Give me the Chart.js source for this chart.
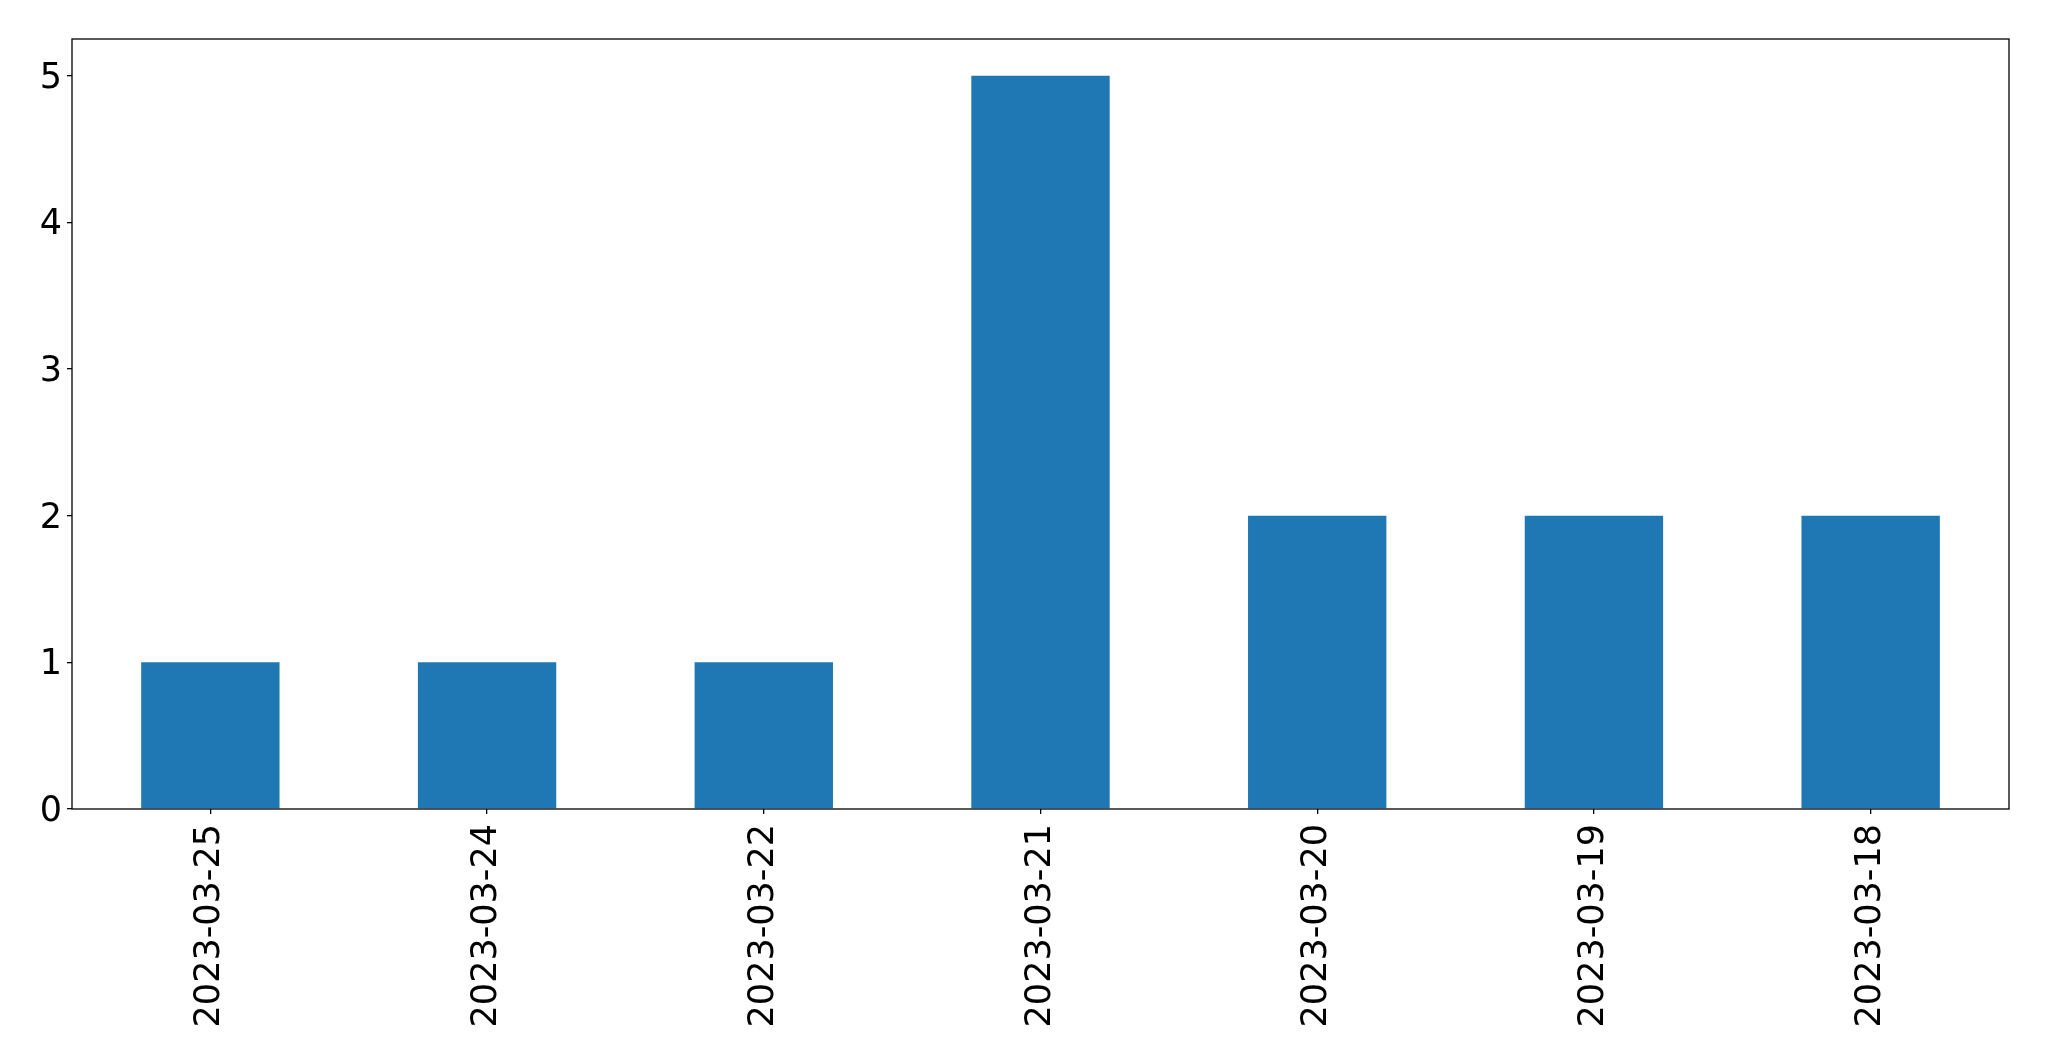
<!DOCTYPE html>
<html>
<head>
<meta charset="utf-8">
<script src="https://cdn.jsdelivr.net/npm/chart.js@4/dist/chart.umd.min.js"></script>
<style>
html,body{margin:0;padding:0;background:#fff;}
canvas{display:block;}
</style>
</head>
<body>
<canvas id="c" width="2049" height="1061"></canvas>
<script>
const categories = ["2023-03-25","2023-03-24","2023-03-22","2023-03-21","2023-03-20","2023-03-19","2023-03-18"];
const counts = [1, 1, 1, 5, 2, 2, 2];
const yTicks = [0, 1, 2, 3, 4, 5];

const frame = {
  id: 'frame',
  afterDraw(chart) {
    const a = chart.chartArea, ctx = chart.ctx;
    ctx.save();
    ctx.strokeStyle = '#000';
    ctx.lineWidth = 1.3;
    ctx.strokeRect(a.left, a.top, a.right - a.left, a.bottom - a.top);
    ctx.restore();
  }
};

new Chart(document.getElementById('c'), {
  type: 'bar',
  data: {
    labels: categories,
    datasets: [{
      data: counts,
      backgroundColor: '#1f77b4',
      borderWidth: 0,
      barPercentage: 0.5,
      categoryPercentage: 1.0
    }]
  },
  options: {
    responsive: false,
    animation: false,
    devicePixelRatio: 1,
    layout: { padding: { top: 39, right: 40, left: 0, bottom: 0 } },
    plugins: { legend: { display: false }, tooltip: { enabled: false } },
    scales: {
      x: {
        offset: true,
        grid: { display: true, drawOnChartArea: false, drawTicks: true, tickLength: 5, color: '#000', lineWidth: 1.3, offset: false },
        border: { display: false },
        ticks: {
          color: '#000',
          font: { family: 'DejaVu Sans', size: 35 },
          maxRotation: 90, minRotation: 90,
          padding: 10,
          autoSkip: false
        },
        afterFit(scale) { scale.height = 252; }
      },
      y: {
        min: 0,
        max: 5.25,
        grid: { display: true, drawOnChartArea: false, drawTicks: true, tickLength: 5, color: '#000', lineWidth: 1.3 },
        border: { display: false },
        ticks: {
          color: '#000',
          font: { family: 'DejaVu Sans', size: 35 },
          stepSize: 1,
          padding: 5,
          labelOffset: 3
        },
        afterBuildTicks(scale) {
          scale.ticks = yTicks.map(v => ({ value: v }));
        },
        afterFit(scale) { scale.width = 72; }
      }
    }
  },
  plugins: [frame]
});
</script>
</body>
</html>
